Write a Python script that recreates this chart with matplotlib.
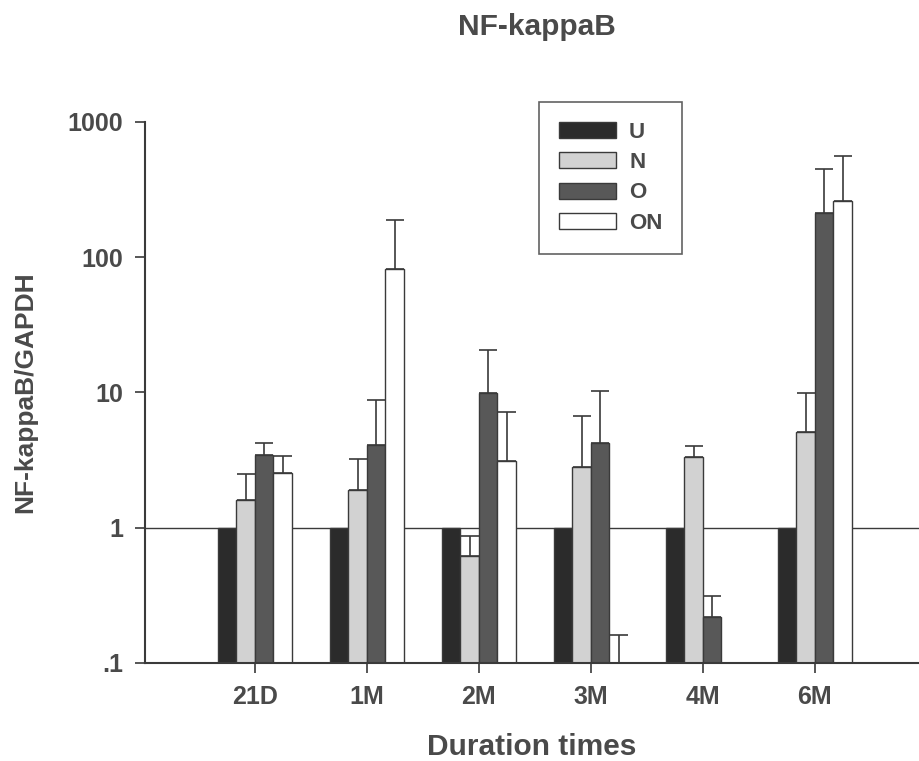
import numpy as np
import matplotlib
matplotlib.use("Agg")
import matplotlib.pyplot as plt

# ---- data (ratio to GAPDH, log scale) ----
categories = ["21D", "1M", "2M", "3M", "4M", "6M"]
groups = ["U", "N", "O", "ON"]
U = [1.0, 1.0, 1.0, 1.0, 1.0, 1.0]
N = [1.6, 1.88, 0.62, 2.78, 3.3, 5.1]
O = [3.45, 4.1, 9.8, 4.25, 0.22, 213]
ON = [2.55, 82, 3.13, 0.08, np.nan, 258]
# upper error bar tops
U_top = [np.nan] * 6
N_top = [2.5, 3.2, 0.86, 6.7, 4.0, 9.8]
O_top = [4.25, 8.7, 20.7, 10.3, 0.31, 444]
ON_top = [3.4, 189, 7.2, 0.16, np.nan, 563]

values = [U, N, O, ON]
tops = [U_top, N_top, O_top, ON_top]
fills = ["#2b2b2b", "#d2d2d2", "#585858", "#ffffff"]
TXT = "#4a4a4a"
EDGE = "#3a3a3a"

plt.rcParams["font.family"] = ["Liberation Sans", "DejaVu Sans"]
plt.rcParams["font.weight"] = "bold"
plt.rcParams["axes.labelweight"] = "bold"

fig = plt.figure(figsize=(9.19, 7.61), dpi=100)
ax = fig.add_axes([0.158, 0.129, 0.842, 0.711])

x = np.arange(len(categories))
w = 0.165
for i, (vals, top, fc, name) in enumerate(zip(values, tops, fills, groups)):
    pos = x + (i - 1.5) * w
    v = np.array(vals, dtype=float)
    ax.bar(pos, v, width=w, color=fc, edgecolor=EDGE, linewidth=1.0,
           label=name, zorder=2)
    t = np.array(top, dtype=float)
    up = t - v
    ok = ~np.isnan(up)
    if ok.any():
        ax.errorbar(pos[ok], v[ok], yerr=[np.zeros(ok.sum()), up[ok]], fmt="none",
                    ecolor=EDGE, elinewidth=1.2, capsize=6.5, capthick=1.2,
                    zorder=3)

ax.axhline(1.0, color=EDGE, lw=1.0, zorder=1)

ax.set_yscale("log")
ax.set_ylim(0.1, 1000)
ax.set_xlim(-0.98, 5.93)
ax.set_yticks([0.1, 1, 10, 100, 1000])
ax.set_yticklabels([".1", "1", "10", "100", "1000"])
ax.yaxis.set_minor_locator(matplotlib.ticker.NullLocator())
ax.set_xticks(x)
ax.set_xticklabels(categories)
ax.tick_params(axis="both", direction="out", length=7, width=1.2,
               colors=EDGE, labelcolor=TXT, labelsize=18)
ax.tick_params(axis="y", pad=9)
ax.tick_params(axis="x", pad=9)

for s in ("top", "right"):
    ax.spines[s].set_visible(False)
for s in ("left", "bottom"):
    ax.spines[s].set_color(EDGE)
    ax.spines[s].set_linewidth(1.5)

ax.set_xlabel("Duration times", fontsize=21.5, color=TXT, labelpad=17)
ax.set_ylabel("NF-kappaB/GAPDH", fontsize=19, color=TXT, labelpad=22)
fig.text(0.584, 0.965, "NF-kappaB", ha="center", va="center",
         fontsize=21.5, color=TXT, fontweight="bold")

leg = ax.legend(loc="upper left", bbox_to_anchor=(0.509, 1.037), frameon=True,
                fancybox=False, edgecolor=EDGE, fontsize=16,
                handlelength=2.55, handleheight=0.75, labelspacing=0.42,
                borderpad=0.9, borderaxespad=0, handletextpad=0.6)
leg.get_frame().set_linewidth(1.2)
for t in leg.get_texts():
    t.set_color(TXT)

fig.savefig("out.png", dpi=100)
